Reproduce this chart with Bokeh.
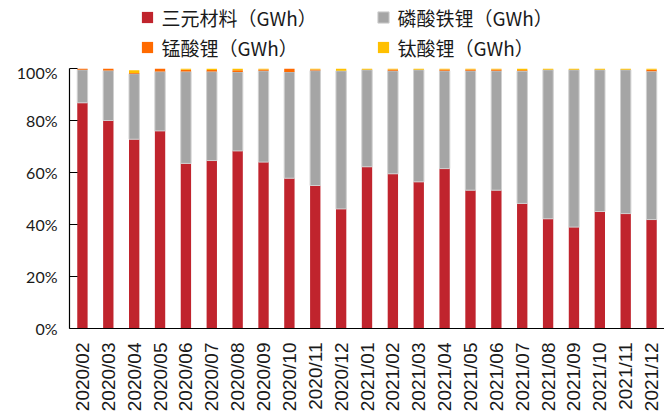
import math
from bokeh.plotting import figure
from bokeh.layouts import column
from bokeh.models import Range1d, FixedTicker, PrintfTickFormatter, Legend, LegendItem, ColumnDataSource
from bokeh.embed import file_html
from bokeh.resources import INLINE

months = ["2020/02", "2020/03", "2020/04", "2020/05", "2020/06", "2020/07", "2020/08",
          "2020/09", "2020/10", "2020/11", "2020/12", "2021/01", "2021/02", "2021/03",
          "2021/04", "2021/05", "2021/06", "2021/07", "2021/08", "2021/09", "2021/10",
          "2021/11", "2021/12"]
ncm = [86.8, 80.0, 72.8, 76.0, 63.5, 64.6, 68.3, 64.0, 57.8, 55.0, 46.0, 62.2,
       59.5, 56.4, 61.5, 53.2, 53.2, 48.1, 42.2, 39.0, 45.0, 44.2, 41.9]
lfp = [12.7, 19.2, 25.2, 22.8, 35.3, 34.2, 30.4, 35.1, 40.9, 44.2, 53.1, 37.3,
       39.6, 43.1, 37.6, 45.9, 45.9, 50.9, 57.3, 60.5, 54.5, 55.3, 57.0]
lmo = [0.5, 0.8, 0.3, 1.2, 0.7, 0.6, 0.6, 0.5, 1.3, 0.4, 0.0, 0.0,
       0.5, 0.0, 0.5, 0.5, 0.5, 0.3, 0.0, 0.0, 0.0, 0.0, 0.6]
lto = [0.0, 0.0, 1.0, 0.0, 0.5, 0.6, 0.7, 0.4, 0.0, 0.4, 0.9, 0.5,
       0.4, 0.5, 0.4, 0.4, 0.4, 0.7, 0.5, 0.5, 0.5, 0.5, 0.5]
series_names = ["三元材料（GWh）", "磷酸铁锂（GWh）", "锰酸锂（GWh）", "钛酸锂（GWh）"]
y_ticks = [0, 20, 40, 60, 80, 100]

colors = ["#C0242D", "#A5A5A5", "#FF6A00", "#FFC000"]
edge_colors = [None, "#D0D0D0", None, None]
keys = ["ncm", "lfp", "lmo", "lto"]

W = 664
LEG_H = 62
MAIN_H = 352

src = ColumnDataSource(dict(month=months, ncm=ncm, lfp=lfp, lmo=lmo, lto=lto))

p = figure(x_range=months, y_range=Range1d(0, 100), width=W, height=MAIN_H,
           output_backend="svg", toolbar_location=None,
           min_border_left=69, min_border_right=0, min_border_top=6, min_border_bottom=82)
p.outline_line_color = None
p.background_fill_color = "white"
p.xgrid.visible = False
p.ygrid.visible = False

renderers = p.vbar_stack(keys, x="month", width=0.4, source=src, color=colors,
                         line_color=edge_colors, line_width=1)
p.x_range.range_padding = 0

p.yaxis.ticker = FixedTicker(ticks=y_ticks)
p.yaxis.formatter = PrintfTickFormatter(format="%d%%")
p.yaxis.axis_line_color = "black"
p.yaxis.axis_line_width = 1.2
p.yaxis.major_tick_in = 8
p.yaxis.major_tick_out = 0
p.yaxis.major_tick_line_color = "black"
p.yaxis.minor_tick_line_color = None
p.yaxis.major_label_standoff = 12
p.yaxis.major_label_text_font = "Lato"
p.yaxis.major_label_text_font_size = "16px"
p.yaxis.major_label_text_color = "#1a1a1a"

p.xaxis.axis_line_color = "black"
p.xaxis.axis_line_width = 1.2
p.xaxis.major_tick_line_color = None
p.xaxis.minor_tick_line_color = None
p.xaxis.major_tick_out = 0
p.xaxis.major_tick_in = 0
p.xaxis.major_label_orientation = math.pi / 2
p.xaxis.major_label_standoff = 14
p.xaxis.major_label_text_font = "Liberation Sans"
p.xaxis.major_label_text_font_size = "19px"
p.xaxis.major_label_text_color = "#1a1a1a"

# legend strip above the chart: same stacked series, scrolled out of view, only the legend shows
lf = figure(width=W, height=LEG_H, x_range=months, y_range=Range1d(1000, 1001),
            output_backend="svg", toolbar_location=None,
            x_axis_type=None, y_axis_type=None,
            min_border_left=0, min_border_right=0, min_border_top=0, min_border_bottom=0)
lf.outline_line_color = None
lf.xgrid.visible = False
lf.ygrid.visible = False
leg_r = lf.vbar_stack(keys, x="month", width=0.4, source=src, color=colors,
                      line_color=edge_colors, line_width=1)

def make_legend(items, loc):
    leg = Legend(items=items, location=loc, orientation="vertical")
    leg.border_line_color = None
    leg.background_fill_alpha = 0
    leg.padding = 0
    leg.margin = 0
    leg.spacing = 3
    leg.glyph_width = 14
    leg.glyph_height = 14
    leg.label_height = 26
    leg.label_standoff = 8
    leg.label_text_font = "Noto Sans CJK SC"
    leg.label_text_font_size = "19px"
    leg.label_text_color = "#1a1a1a"
    return leg

leg_c1 = make_legend([LegendItem(label=series_names[0], renderers=[leg_r[0]]),
                      LegendItem(label=series_names[2], renderers=[leg_r[2]])], (70.5, 1.5))
leg_c2 = make_legend([LegendItem(label=series_names[1], renderers=[leg_r[1]]),
                      LegendItem(label=series_names[3], renderers=[leg_r[3]])], (306.5, 1.5))
lf.add_layout(leg_c1, "center")
lf.add_layout(leg_c2, "center")

layout = column(lf, p, spacing=0)
open("out.html", "w").write(file_html(layout, INLINE))
